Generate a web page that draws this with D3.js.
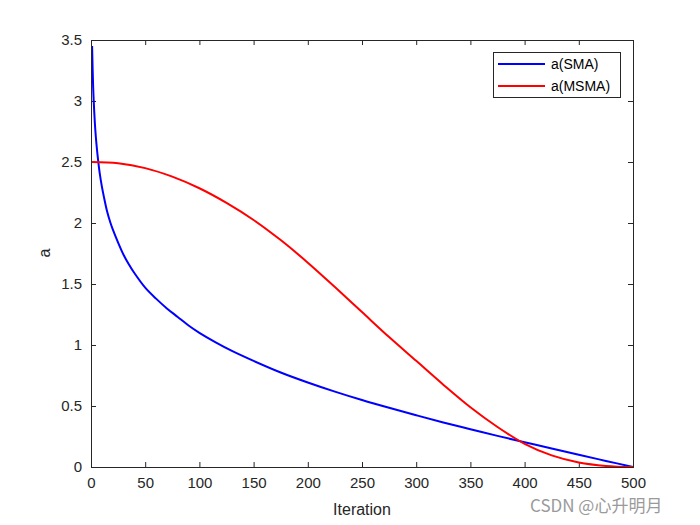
<!DOCTYPE html>
<html>
<head>
<meta charset="utf-8">
<script src="https://cdn.jsdelivr.net/npm/d3@7"></script>
<style>
  html, body { margin: 0; padding: 0; background: #fff; }
  svg { display: block; }
  text { font-family: "Liberation Sans", Arial, Helvetica, sans-serif; }
</style>
</head>
<body>
<svg id="chart" width="700" height="525"></svg>
<script>
// ---- data ----
const iterSMA = [1, 2, 3, 4, 5, 6, 8, 10, 12, 15, 18, 20, 25, 30, 35, 40, 50, 60, 70, 80, 90, 100, 115, 130, 150, 175, 200, 225, 250, 275, 300, 325, 350, 375, 400, 425, 450, 475, 500];
const aSMA    = [3.45, 3.11, 2.91, 2.76, 2.65, 2.56, 2.41, 2.30, 2.21, 2.09, 2.00, 1.95, 1.84, 1.74, 1.66, 1.59, 1.47, 1.38, 1.30, 1.23, 1.16, 1.10, 1.022, 0.952, 0.87, 0.775, 0.693, 0.618, 0.549, 0.485, 0.424, 0.365, 0.31, 0.255, 0.203, 0.151, 0.10, 0.05, 0.0];

const iterMSMA = [1, 25, 50, 75, 100, 125, 150, 175, 200, 225, 250, 275, 300, 325, 350, 375, 400, 425, 450, 475, 500];
const aMSMA    = [2.50, 2.49, 2.45, 2.38, 2.285, 2.165, 2.025, 1.86, 1.675, 1.475, 1.27, 1.065, 0.87, 0.675, 0.49, 0.328, 0.19, 0.095, 0.037, 0.009, 0.0];

const xTicks = [0, 50, 100, 150, 200, 250, 300, 350, 400, 450, 500];
const yTicks = [0, 0.5, 1, 1.5, 2, 2.5, 3, 3.5];
const seriesNames = ["a(SMA)", "a(MSMA)"];
const seriesColors = ["#0000ff", "#ff0000"];
const xLabel = "Iteration";
const yLabel = "a";
const watermark = "CSDN @心升明月";

// ---- layout ----
const svg = d3.select("#chart");
const L = 91, R = 633, T = 40, B = 467;
const x = d3.scaleLinear().domain([0, 500]).range([L, R]);
const y = d3.scaleLinear().domain([0, 3.5]).range([B, T]);
const axisColor = "#262626";
const tickLen = 5;

const g = svg.append("g");

const axB = d3.axisBottom(x).tickValues(xTicks).tickSizeInner(-tickLen).tickSizeOuter(0).tickPadding(10).tickFormat(d3.format("d"));
const axT = d3.axisTop(x).tickValues(xTicks).tickSizeInner(-tickLen).tickSizeOuter(0).tickFormat("");
const axL = d3.axisLeft(y).tickValues(yTicks).tickSizeInner(-tickLen).tickSizeOuter(0).tickPadding(9).tickFormat(d => String(d));
const axR = d3.axisRight(y).tickValues(yTicks).tickSizeInner(-tickLen).tickSizeOuter(0).tickFormat("");

function style(sel) {
  sel.select(".domain").remove();
  sel.selectAll(".tick line").attr("stroke", axisColor).attr("stroke-width", 1);
  sel.selectAll(".tick text").attr("fill", axisColor).style("font-size", "15px")
     .style("font-family", '"Liberation Sans", Arial, sans-serif');
}
g.append("g").attr("transform", `translate(0,${B})`).call(axB).call(style);
g.append("g").attr("transform", `translate(0,${T})`).call(axT).call(style);
g.append("g").attr("transform", `translate(${L},0)`).call(axL).call(style);
g.append("g").attr("transform", `translate(${R},0)`).call(axR).call(style);

// lines
const line = d3.line().x(d => x(d[0])).y(d => y(d[1])).curve(d3.curveCatmullRom.alpha(0.5));
const dataSMA = iterSMA.map((t, i) => [t, aSMA[i]]);
const dataMSMA = iterMSMA.map((t, i) => [t, aMSMA[i]]);
svg.append("clipPath").attr("id", "clip").append("rect")
  .attr("x", L).attr("y", T - 2).attr("width", R - L + 2).attr("height", B - T + 2);
const plot = g.append("g").attr("clip-path", "url(#clip)");
plot.append("path").datum(dataSMA).attr("d", line).attr("fill", "none")
  .attr("stroke", seriesColors[0]).attr("stroke-width", 2);
plot.append("path").datum(dataMSMA).attr("d", line).attr("fill", "none")
  .attr("stroke", seriesColors[1]).attr("stroke-width", 2);

// box
g.append("rect").attr("x", L + 0.5).attr("y", T + 0.5).attr("width", R - L).attr("height", B - T)
  .attr("fill", "none").attr("stroke", axisColor).attr("stroke-width", 1);

// axis labels
g.append("text").attr("x", (L + R) / 2).attr("y", 515).attr("text-anchor", "middle")
  .attr("fill", axisColor).style("font-size", "16px").text(xLabel);
g.append("text").attr("transform", `translate(50,253) rotate(-90)`).attr("text-anchor", "middle")
  .attr("fill", axisColor).style("font-size", "16px").text(yLabel);

// legend
const lg = g.append("g");
lg.append("rect").attr("x", 493.5).attr("y", 52.5).attr("width", 127).attr("height", 45)
  .attr("fill", "#fff").attr("stroke", axisColor).attr("stroke-width", 1);
seriesNames.forEach((name, i) => {
  const yy = 64 + i * 22;
  lg.append("line").attr("x1", 498).attr("x2", 545).attr("y1", yy).attr("y2", yy)
    .attr("stroke", seriesColors[i]).attr("stroke-width", 2);
  lg.append("text").attr("x", 551).attr("y", yy + 5).attr("fill", "#000")
    .style("font-size", "14px").text(name);
});

// watermark
svg.append("text").attr("x", 530).attr("y", 512).attr("fill", "#9a9a9a")
  .style("font-size", "17px").style("font-family", '"Noto Sans CJK SC", "Liberation Sans", sans-serif')
  .text(watermark);
</script>
</body>
</html>
